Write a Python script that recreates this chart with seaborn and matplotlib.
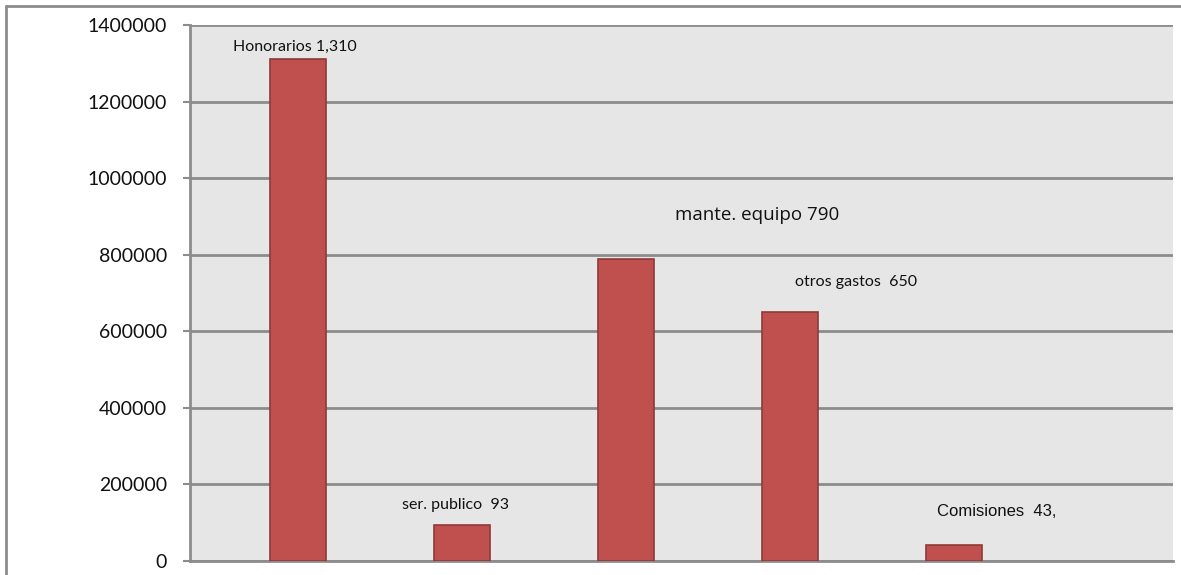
import numpy as np
import pandas as pd
import matplotlib.pyplot as plt
import matplotlib.lines as mlines
import seaborn as sns

# Data
categories = ['Honorarios', 'ser. publico', 'mante. equipo', 'otros gastos', 'Comisiones']
amounts = [1310000, 93000, 790000, 650000, 43000]
label_texts = ['Honorarios 1,310', 'ser. publico  93', 'mante. equipo 790',
               'otros gastos  650', 'Comisiones  43,']
y_ticks = [0, 200000, 400000, 600000, 800000, 1000000, 1200000, 1400000]

df = pd.DataFrame({'categoria': categories, 'monto': amounts})

sns.set_style('white')
plt.rcParams['font.family'] = ['Lato', 'DejaVu Sans']

fig = plt.figure(figsize=(11.81, 5.75), dpi=100)
ax = fig.add_axes([190 / 1181, 1 - 561 / 575, (1173 - 190) / 1181, (561 - 25) / 575])
ax.set_facecolor('#e6e6e6')

sns.barplot(data=df, x='categoria', y='monto', color='#c0504d', width=0.341,
            edgecolor='#8e3a38', linewidth=1.2, saturation=1, ax=ax, zorder=3)

ax.set_xlim(-0.659, 5.335)
ax.set_ylim(0, 1400000)
ax.set_yticks(y_ticks)
ax.set_yticklabels([str(t) for t in y_ticks], fontsize=14, color='#111111')
ax.set_xticks([])
ax.set_xlabel('')
ax.set_ylabel('')
ax.yaxis.grid(True, color='#8c8c8c', linewidth=2, zorder=0)
ax.set_axisbelow(True)
ax.tick_params(axis='y', length=5, width=1.5, color='#8c8c8c', pad=11.5, left=True)
for side in ['top', 'right']:
    ax.spines[side].set_visible(False)
for side in ['left', 'bottom']:
    ax.spines[side].set_color('#8c8c8c')
    ax.spines[side].set_linewidth(2)

# data labels (placed where the original chart had them)
label_x = [-0.02, 0.96, 2.80, 3.40, 4.26]
label_y = [1342000, 146000, 903000, 728000, 130000]
label_font = [['Lato'], ['Lato'], ['Open Sans'], ['Lato'], ['Liberation Sans']]
label_size = [11.5, 11.5, 13.5, 11.5, 12]
for tx, lx, ly, fam, fs in zip(label_texts, label_x, label_y, label_font, label_size):
    ax.text(lx, ly, tx, ha='center', va='center', fontsize=fs, family=fam,
            color='#111111', zorder=4)

# outer chart frame
fig.add_artist(mlines.Line2D([6 / 1181, 1.0], [1 - 6 / 575, 1 - 6 / 575],
                             color='#8c8c8c', linewidth=2, transform=fig.transFigure))
fig.add_artist(mlines.Line2D([6 / 1181, 6 / 1181], [0.0, 1 - 6 / 575],
                             color='#8c8c8c', linewidth=2, transform=fig.transFigure))

fig.savefig('out.png', dpi=100)
